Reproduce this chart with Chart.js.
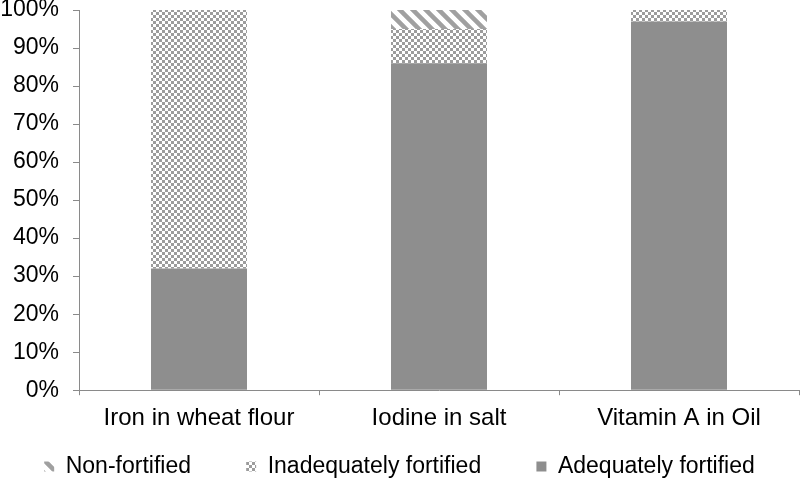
<!DOCTYPE html>
<html>
<head>
<meta charset="utf-8">
<script src="https://cdn.jsdelivr.net/npm/chart.js@4/dist/chart.umd.min.js"></script>
<style>
  html, body { margin: 0; padding: 0; background: #fff; }
  #myChart { display: block; }
</style>
</head>
<body>
<canvas id="myChart" width="800" height="482"></canvas>
<script>
"use strict";

const categories = ["Iron in wheat flour", "Iodine in salt", "Vitamin A in Oil"];
const adequate = [32, 86, 97];
const inadequate = [68, 9, 3];
const nonFortified = [0, 5, 0];
const yTicks = [0, 10, 20, 30, 40, 50, 60, 70, 80, 90, 100];

function makeChecker() {
  const c = document.createElement("canvas");
  c.width = 6;
  c.height = 6;
  const ctx = c.getContext("2d");
  ctx.fillStyle = "#ffffff";
  ctx.fillRect(0, 0, 6, 6);
  ctx.fillStyle = "#9c9c9c";
  ctx.fillRect(0, 0, 3, 3);
  ctx.fillRect(3, 3, 3, 3);
  return ctx.createPattern(c, "repeat");
}

function makeHatch() {
  const s = 13;
  const c = document.createElement("canvas");
  c.width = s;
  c.height = s;
  const ctx = c.getContext("2d");
  ctx.fillStyle = "#ffffff";
  ctx.fillRect(0, 0, s, s);
  ctx.strokeStyle = "#a0a0a0";
  ctx.lineWidth = 4.5;
  ctx.beginPath();
  ctx.moveTo(-s, -s);
  ctx.lineTo(2 * s, 2 * s);
  ctx.moveTo(-s, 0);
  ctx.lineTo(s, 2 * s);
  ctx.moveTo(0, -s);
  ctx.lineTo(2 * s, s);
  ctx.stroke();
  return ctx.createPattern(c, "repeat");
}

const solidGrey = "#8e8e8e";
const checker = makeChecker();
const hatch = makeHatch();

Chart.defaults.font.family = "'Liberation Sans', Arial, sans-serif";
Chart.defaults.font.size = 23;
Chart.defaults.color = "#000";

// extra room after each legend entry (last one none)
const legendGaps = ["\u2003\u2003\u2009\u2009", "\u2003\u2003\u2009\u2009", ""];

// fix the legend block height so the layout below the axis matches
const legendHeight = {
  id: "legendHeight",
  beforeInit(chart) {
    const fit = chart.legend.fit;
    chart.legend.fit = function () {
      fit.call(this);
      this.height = 27;
    };
  },
};

const chartConfig = {
  type: "bar",
  data: {
    labels: categories,
    datasets: [
      { label: "Adequately fortified", data: adequate, backgroundColor: solidGrey },
      { label: "Inadequately fortified", data: inadequate, backgroundColor: checker },
      { label: "Non-fortified", data: nonFortified, backgroundColor: hatch },
    ],
  },
  options: {
    responsive: false,
    animation: false,
    layout: { padding: { left: 0, right: 1, top: 0, bottom: 0 } },
    datasets: {
      bar: { categoryPercentage: 1, barPercentage: 0.4, borderWidth: 0 },
    },
    plugins: {
      tooltip: { enabled: false },
      legend: {
        position: "bottom",
        reverse: true,
        labels: {
          boxWidth: 10,
          boxHeight: 10,
          padding: 0,
          font: { size: 23 },
          generateLabels: function (chart) {
            const items = Chart.defaults.plugins.legend.labels.generateLabels(chart);
            items.forEach(function (item) {
              item.lineWidth = 0;
            });
            items.reverse();
            items.forEach(function (item, i) {
              item.text = item.text + legendGaps[i];
            });
            items.reverse();
            return items;
          },
        },
      },
    },
    scales: {
      x: {
        stacked: true,
        afterFit: function (scale) {
          scale.height += 13;
        },
        border: { color: "#8a8a8a", width: 1 },
        grid: {
          offset: true,
          drawOnChartArea: false,
          tickLength: 5,
          color: "#8a8a8a",
        },
        ticks: { padding: 9, font: { size: 24 } },
      },
      y: {
        stacked: true,
        min: 0,
        max: 100,
        afterFit: function (scale) {
          scale.width = 79;
          scale.paddingTop = 10;
          scale.paddingBottom = 0;
        },
        afterBuildTicks: function (scale) {
          scale.ticks = yTicks.map(function (v) {
            return { value: v };
          });
        },
        border: { color: "#8a8a8a", width: 1 },
        grid: {
          drawOnChartArea: false,
          tickLength: 6,
          color: "#8a8a8a",
        },
        ticks: {
          padding: 14,
          callback: function (v) {
            return v + "%";
          },
        },
      },
    },
  },
  plugins: [legendHeight],
};

const myChart = new Chart(document.getElementById("myChart").getContext("2d"), chartConfig);
</script>
</body>
</html>
